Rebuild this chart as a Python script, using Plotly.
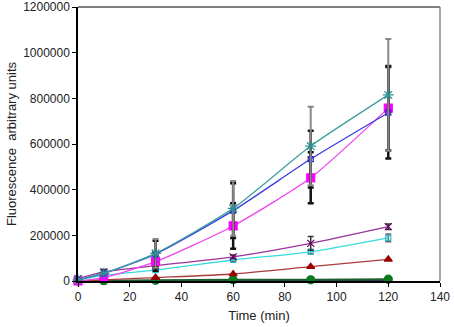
import plotly.graph_objects as go

time_min = [0, 10, 30, 60, 90, 120]

teal_vals = [5000, 34000, 121000, 318000, 591000, 815000]
teal_err = [0, 0, 63000, 120000, 172000, 245000]

blue_vals = [5000, 33000, 118000, 308000, 534000, 737000]
blue_err = [0, 0, 58000, 120000, 124000, 200000]

magenta_vals = [0, 15000, 84500, 241000, 452000, 757000]
magenta_err = [0, 0, 40000, 100000, 112000, 185000]

purple_vals = [10000, 40000, 67000, 106000, 165000, 238000]
purple_err = [0, 10000, 8000, 8000, 30000, 12000]

cyan_vals = [5000, 25000, 48000, 92000, 128000, 189000]
cyan_err = [0, 0, 6000, 6000, 10000, 17000]

red_vals = [0, 5000, 15000, 30600, 62600, 95000]
green_vals = [0, 1000, 3000, 5000, 5000, 8000]
navy_vals = [0, 0, 0, 0, 0, 0]

y_ticks = [0, 200000, 400000, 600000, 800000, 1000000, 1200000]
x_ticks = [0, 20, 40, 60, 80, 100, 120, 140]

fig = go.Figure()

def add(vals, err, color, symbol, msize, mcolor, ecolor, ethick, lw=1.3):
    ey = None
    if err is not None:
        ey = dict(type="data", array=err, visible=True, color=ecolor,
                  thickness=ethick, width=3)
    fig.add_trace(go.Scatter(
        x=time_min, y=vals, mode="lines+markers",
        line=dict(color=color, width=lw, shape="spline", smoothing=0.6),
        marker=dict(symbol=symbol, size=msize, color=mcolor,
                    line=dict(color=mcolor, width=1.2)),
        error_y=ey, showlegend=False, cliponaxis=False))

add(navy_vals, None, "#223355", "circle", 1, "#223355", None, 0, lw=2)
add(green_vals, None, "#1E5E2E", "circle", 8, "#0B7A1E", None, 0, lw=2)
add(red_vals, None, "#A83A3A", "triangle-up", 7, "#990000", None, 0)
add(cyan_vals, cyan_err, "#33DDDD", "square-open", 5, "#22BBCC", "#666666", 1.5)
add(purple_vals, purple_err, "#993399", "x-thin-open", 7, "#660066", "#333333", 1.5)
add(magenta_vals, magenta_err, "#EE44EE", "square", 8, "#FF00FF", "#111111", 2.5)
add(blue_vals, blue_err, "#3A3AE0", "square-open", 5, "#2222CC", "#111111", 2.5)
add(teal_vals, teal_err, "#3FA0A0", "asterisk-open", 9, "#2E8E8E", "#888888", 2)

fig.update_layout(
    width=454, height=327,
    margin=dict(l=78, r=14, t=7, b=46),
    paper_bgcolor="white", plot_bgcolor="white",
    font=dict(family="Liberation Sans, Arial, sans-serif", size=12, color="#222222"),
)
fig.update_xaxes(
    range=[0, 140], tickvals=x_ticks, showgrid=False, zeroline=False,
    showline=True, linecolor="black", linewidth=1.5, automargin=False,
    ticks="outside", ticklen=4, tickcolor="black",
    title=dict(text="Time (min)", font=dict(size=13), standoff=8),
)
fig.update_yaxes(
    range=[0, 1200000], tickvals=y_ticks, tickformat="d", showgrid=False,
    zeroline=False, showline=True, linecolor="black", linewidth=1.5,
    ticks="outside", ticklen=4, tickcolor="black", automargin=False,
    title=dict(text="Fluorescence  arbitrary units", font=dict(size=13), standoff=4),
)
# frame: top black, right gray
fig.add_shape(type="line", xref="paper", yref="paper", x0=0, x1=1, y0=1, y1=1,
              line=dict(color="black", width=1))
fig.add_shape(type="line", xref="paper", yref="paper", x0=1, x1=1, y0=0, y1=1,
              line=dict(color="#888888", width=1.5))

fig.write_html("out.html", config={"displayModeBar": False},
               post_script="document.body.style.margin='0';document.body.style.overflow='hidden';")
